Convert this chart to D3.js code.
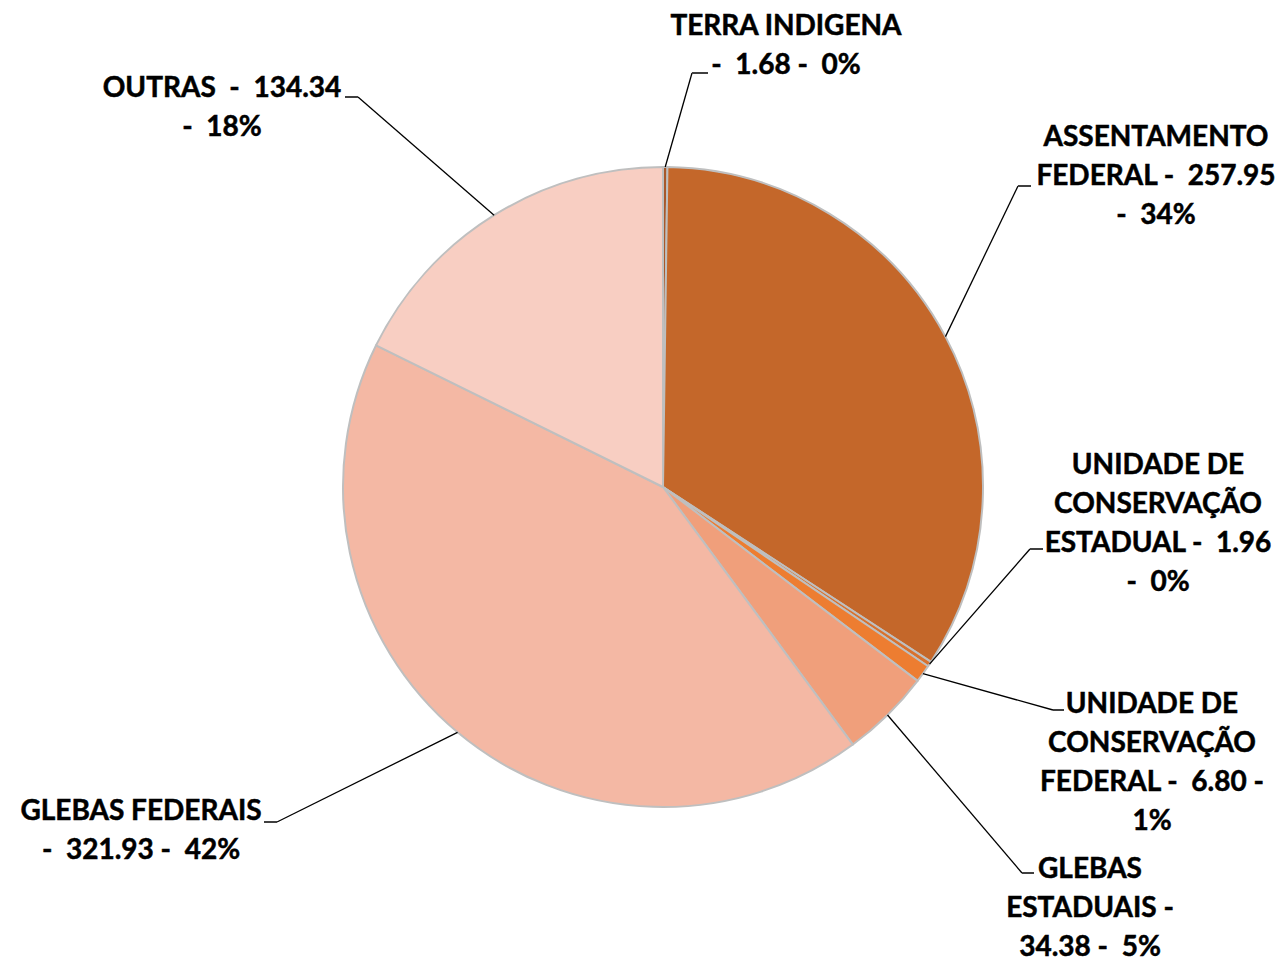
<!DOCTYPE html>
<html>
<head>
<meta charset="utf-8">
<script src="https://cdn.jsdelivr.net/npm/d3@7"></script>
<style>
  html, body { margin: 0; padding: 0; background: #ffffff; }
  svg { display: block; }
  text { font-family: Lato, "Open Sans", sans-serif; font-weight: bold; fill: #000; }
</style>
</head>
<body>
<svg id="chart" width="1281" height="961"></svg>
<script>
// ---- data ----
const categories = [
  "TERRA INDIGENA",
  "ASSENTAMENTO FEDERAL",
  "UNIDADE DE CONSERVAÇÃO ESTADUAL",
  "UNIDADE DE CONSERVAÇÃO FEDERAL",
  "GLEBAS ESTADUAIS",
  "GLEBAS FEDERAIS",
  "OUTRAS"
];
const values = [1.68, 257.95, 1.96, 6.80, 34.38, 321.93, 134.34];
const percentLabels = ["0%", "34%", "0%", "1%", "5%", "42%", "18%"];
const labelLines = [
  ["TERRA INDIGENA", "-  1.68 -  0%"],
  ["ASSENTAMENTO", "FEDERAL -  257.95", "-  34%"],
  ["UNIDADE DE", "CONSERVAÇÃO", "ESTADUAL -  1.96", "-  0%"],
  ["UNIDADE DE", "CONSERVAÇÃO", "FEDERAL -  6.80 -", "1%"],
  ["GLEBAS", "ESTADUAIS -", "34.38 -  5%"],
  ["GLEBAS FEDERAIS", "-  321.93 -  42%"],
  ["OUTRAS  -  134.34", "-  18%"]
];

// ---- styling / layout (not data) ----
const colors = ["#A8582A", "#C4672A", "#D8712D", "#ED7D31", "#F09F7B", "#F4B8A4", "#F8CEC2"];
const layout = [
  { cx: 786,  y0: 35,  elbow: [692, 73],  end: [708, 73] },
  { cx: 1156, y0: 146, elbow: [1018, 186], end: [1031, 186] },
  { cx: 1158, y0: 474, elbow: [1030, 549], end: [1043, 549] },
  { cx: 1152, y0: 713, elbow: [1053, 710], end: [1064, 710] },
  { cx: 1090, y0: 878, elbow: [1022, 873], end: [1034, 873] },
  { cx: 141,  y0: 820, elbow: [277, 822],  end: [264, 822] },
  { cx: 222,  y0: 97,  elbow: [358, 97],   end: [345, 97] }
];
const lineHeight = 39;
const cx = 663, cy = 487, R = 320;

const svg = d3.select("#chart");
const data = categories.map((c, i) => ({ name: c, value: values[i], idx: i }));

const pie = d3.pie().value(d => d.value).sort(null).startAngle(0).endAngle(2 * Math.PI);
const arcs = pie(data);
const arc = d3.arc().innerRadius(0).outerRadius(R);

const g = svg.append("g").attr("transform", `translate(${cx},${cy})`);
g.selectAll("path.slice")
  .data(arcs)
  .enter().append("path")
  .attr("class", "slice")
  .attr("d", arc)
  .attr("fill", (d, i) => colors[i])
  .attr("stroke", "#BFBFBF")
  .attr("stroke-width", 2)
  .attr("stroke-linejoin", "round");

// leader lines
arcs.forEach((a, i) => {
  const mid = (a.startAngle + a.endAngle) / 2;
  const sx = cx + R * Math.sin(mid);
  const sy = cy - R * Math.cos(mid);
  const L = layout[i];
  svg.append("path")
    .attr("d", `M${sx},${sy}L${L.elbow[0]},${L.elbow[1]}`)
    .attr("fill", "none")
    .attr("stroke", "#000")
    .attr("stroke-width", 1.3);
  svg.append("path")
    .attr("d", `M${L.elbow[0]},${L.elbow[1]}L${L.end[0]},${L.end[1]}`)
    .attr("fill", "none")
    .attr("stroke", "#404040")
    .attr("stroke-width", 2);
});

// labels
labelLines.forEach((lines, i) => {
  const L = layout[i];
  const t = svg.append("text")
    .attr("text-anchor", "middle")
    .attr("font-size", 28)
    .attr("stroke", "#000")
    .attr("stroke-width", 0.5);
  lines.forEach((ln, j) => {
    t.append("tspan")
      .attr("x", L.cx)
      .attr("y", L.y0 + j * lineHeight)
      .attr("xml:space", "preserve")
      .style("white-space", "pre")
      .text(ln);
  });
});
</script>
</body>
</html>
